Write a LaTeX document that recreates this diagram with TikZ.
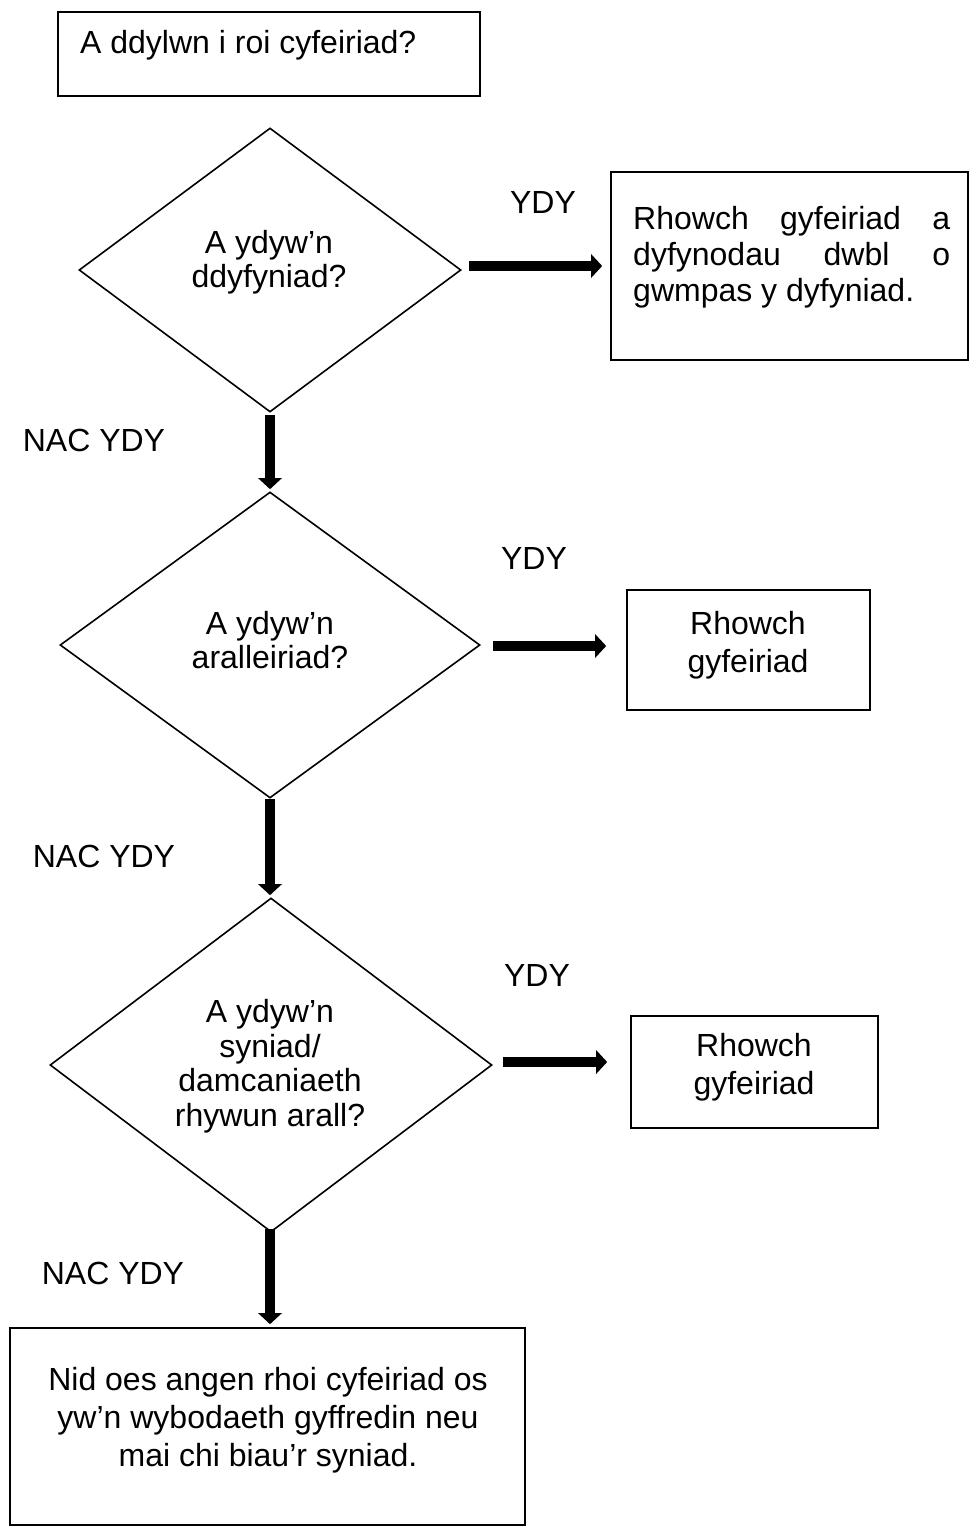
\documentclass[tikz,border=0pt]{standalone}
\usepackage{fontspec}
\setmainfont{Liberation Sans}
\usetikzlibrary{shapes.geometric,arrows.meta}
\begin{document}
\begin{tikzpicture}[x=1pt,y=-1pt,
  every node/.style={font=\fontsize{32}{38}\selectfont,inner sep=0pt},
  frame/.style={draw,line width=1.6pt,rectangle},
  dia/.style={draw,line width=1.6pt,diamond},
  lbl/.style={align=center},
  qtext/.style={align=center,font=\fontsize{32}{34.5}\selectfont},
  arr/.style={line width=10pt,-{Triangle[length=11pt,width=23pt]}}
]
\useasboundingbox (0,0) rectangle (970,1528);
% boxes
\node[frame,minimum width=422pt,minimum height=84pt] (b1) at (269,54) {};
\node[frame,minimum width=357pt,minimum height=188pt] (b2) at (789.5,266) {};
\node[frame,minimum width=243pt,minimum height=120pt] (b3) at (748.5,650) {};
\node[frame,minimum width=247pt,minimum height=112pt] (b4) at (754.5,1072) {};
\node[frame,minimum width=515pt,minimum height=197pt] (b5) at (267.5,1426.5) {};
% diamonds
\node[dia,minimum width=382pt,minimum height=284pt] (d1) at (270,270) {};
\node[dia,minimum width=420pt,minimum height=306pt] (d2) at (270,645) {};
\node[dia,minimum width=442pt,minimum height=334pt] (d3) at (271,1065) {};
% texts
\node[anchor=west] (t1) at (80,45) {A ddylwn i roi cyfeiriad?};
\node[anchor=west,align=left,font=\fontsize{32}{36}\selectfont] (t2) at (633,257) {\makebox[317pt][s]{Rhowch gyfeiriad a}\\\makebox[317pt][s]{dyfynodau dwbl o}\\gwmpas y dyfyniad.};
\node[lbl] (t3) at (748,645) {Rhowch\\gyfeiriad};
\node[lbl] (t4) at (754,1067) {Rhowch\\gyfeiriad};
\node[lbl] (t5) at (268,1420) {Nid oes angen rhoi cyfeiriad os\\yw’n wybodaeth gyffredin neu\\mai chi biau’r syniad.};
\node[qtext] (q1) at (269,262) {A ydyw’n\\ddyfyniad?};
\node[qtext] (q2) at (270,640) {A ydyw’n\\aralleiriad?};
\node[qtext] (q3) at (270,1066) {A ydyw’n\\syniad/\\damcaniaeth\\rhywun arall?};
% labels
\node (y1) at (543,202) {YDY};
\node (y2) at (534,558) {YDY};
\node (y3) at (537,975) {YDY};
\node (n1) at (94,440) {NAC YDY};
\node (n2) at (104,856) {NAC YDY};
\node (n3) at (113,1273) {NAC YDY};
% arrows
\draw[arr,shorten <=7pt,shorten >=8pt] ([yshift=4pt]d1.east) -- ([yshift=4pt]d1.east -| b2.west);
\draw[arr,shorten <=12pt,shorten >=20pt] ([yshift=-1pt]d2.east) -- ([yshift=-1pt]d2.east -| b3.west);
\draw[arr,shorten <=10pt,shorten >=23pt] ([yshift=3pt]d3.east) -- ([yshift=3pt]d3.east -| b4.west);
\draw[arr,shorten <=2pt,shorten >=2pt] (d1.south) -- (d1.south |- d2.north);
\draw[arr,shorten >=2pt] (d2.south) -- (d2.south |- d3.north);
\draw[arr,shorten <=-4pt,shorten >=3pt] ([xshift=-1pt]d3.south) -- ([xshift=-1pt]d3.south |- b5.north);
\end{tikzpicture}
\end{document}
